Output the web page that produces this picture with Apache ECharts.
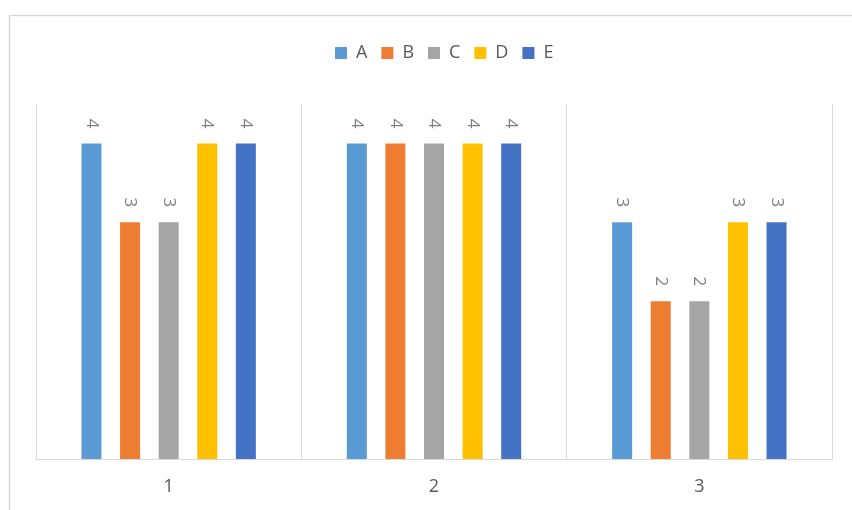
<!DOCTYPE html>
<html>
<head>
<meta charset="utf-8">
<script src="https://cdn.jsdelivr.net/npm/echarts@6/dist/echarts.min.js"></script>
<style>html,body{margin:0;padding:0;background:#fff}#c{width:852px;height:510px}</style>
</head>
<body>
<div id="c"></div>
<script>
const categories = ['1', '2', '3'];
const seriesNames = ['A', 'B', 'C', 'D', 'E'];
const valuesA = [4, 4, 3];
const valuesB = [3, 4, 2];
const valuesC = [3, 4, 2];
const valuesD = [4, 4, 3];
const valuesE = [4, 4, 3];
const colors = ['#5B9BD5', '#ED7D31', '#A5A5A5', '#FFC000', '#4472C4'];
const allValues = [valuesA, valuesB, valuesC, valuesD, valuesE];

const FONT = "'Liberation Sans Narrow', 'Open Sans', sans-serif";
const chart = echarts.init(document.getElementById('c'));
chart.setOption({
  animation: false,
  graphic: [{
    type: 'rect', left: 7, top: 13, shape: { width: 900, height: 600 },
    style: { fill: 'none', stroke: '#d9d9d9', lineWidth: 1.5 }, silent: true
  }],
  legend: {
    top: 39, left: 330, icon: 'rect', itemWidth: 12, itemHeight: 12, itemGap: 14,
    textStyle: { color: '#595959', fontSize: 18, fontFamily: FONT, padding: [0, 0, 0, 4] },
    data: seriesNames
  },
  grid: { left: 36, right: 20, top: 104, bottom: 51 },
  xAxis: {
    type: 'category', data: categories,
    axisLine: { lineStyle: { color: '#d9d9d9', width: 1 } },
    axisTick: { show: false },
    splitLine: { show: true, lineStyle: { color: '#d9d9d9', width: 1 } },
    axisLabel: { color: '#595959', fontSize: 18, fontFamily: FONT, margin: 19 }
  },
  yAxis: { type: 'value', min: 0, max: 4.5, show: false, splitLine: { show: false } },
  series: seriesNames.map((n, i) => ({
    name: n, type: 'bar', data: allValues[i], barWidth: 20, barGap: '93%',
    itemStyle: { color: colors[i] },
    label: {
      show: true, position: 'top', distance: 15, rotate: -90,
      align: 'right', verticalAlign: 'middle',
      color: '#7f7f7f', fontSize: 17, fontFamily: FONT
    }
  }))
});
</script>
</body>
</html>
